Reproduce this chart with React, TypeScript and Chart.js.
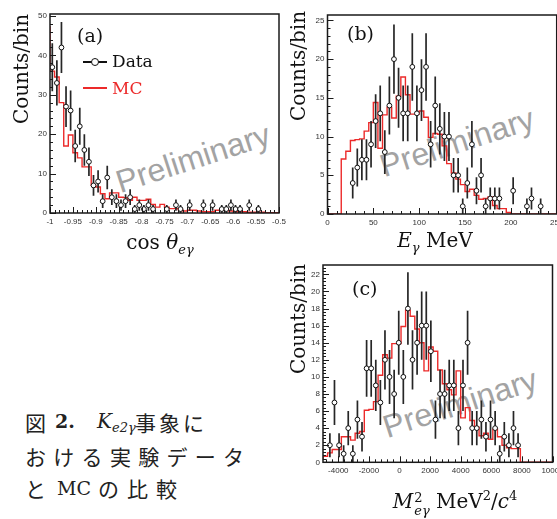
import React, { useEffect, useRef } from "react";
import { Chart, registerables } from "chart.js";
Chart.register(...registerables);

const TICK_FONT = "'Liberation Sans', Arial, sans-serif";
const SERIF = "'DejaVu Serif', 'Liberation Serif', serif";
const JP = "'Noto Sans CJK JP', 'Noto Sans', sans-serif";
const MC_RED = "#ec2a2a";

// ---------- Panel (a): cos theta_eγ, 50 bins of 0.01 from -1 ----------
const aBinStart = -1;
const aBinWidth = 0.01;
const aCounts: (number | null)[] = [
  37, 33, 42, 27, 26, 17, 22, 16, 13, 7,
  8, 3, 9, 4, 3, 2, 3, 4, 1, 2,
  1, 2, 1, null, null, 1, null, 2, 1, null,
  2, null, null, 2, null, 2, null, 1, 1, 2,
  1, 1, null, 2, null, 1, null, null, null, null,
];
const aMC: number[] = [
  47.4, 36.0, 34.5, 28.0, 17.0, 19.8, 15.3, 14.0, 11.7, 11.7,
  7.0, 6.6, 4.9, 3.6, 5.1, 5.1, 4.0, 3.9, 3.2, 4.0,
  3.2, 3.2, 3.5, 2.2, 1.5, 2.2, 1.5, 1.1, 1.1, 0.8,
  0.5, 0.7, 0.7, 0.5, 0.3, 0.3, 0.3, 0.7, 0.7, 0.85,
  0.5, 0.3, 0.3, 0.3, 0.2, 0.2, 0.2, 0.2, 0.1, 0.1,
];
const aXTicks = ["-1", "-0.95", "-0.9", "-0.85", "-0.8", "-0.75", "-0.7", "-0.65", "-0.6", "-0.55", "-0.5"];
const aYTicks = ["0", "10", "20", "30", "40", "50"];

// ---------- Panel (b): E_γ MeV, 50 bins of 5 MeV from 0 ----------
const bBinStart = 0;
const bBinWidth = 5;
const bCounts: (number | null)[] = [
  null, null, null, null, null, 4, 6, 7, 7, 9,
  12, 13, 8, 14, 20, 15, 13, 13, 19, 13,
  16, 19, 9, 14, 11, 10, 10, 5, 5, 1,
  4, 9, 3, 5, 1, 2, 2, 2, null, null,
  3, null, null, 1, 2, null, 1, null, null, null,
];
const bMC: number[] = [
  0, 0, 0, 0, 7.1, 8.1, 9.5, 9.6, 9.7, 10.7,
  11.8, 14.4, 8.5, 12.8, 13.8, 12.4, 15.2, 17.7, 15.4, 12.9,
  12.9, 13.3, 12.5, 9.9, 10.4, 10.3, 8.8, 6.5, 5.3, 4.5,
  3.8, 2.9, 3.2, 2.4, 1.9, 2.0, 2.2, 1.1, 0.7, 0.7,
  0.2, 0, 0, 0, 0, 0, 0, 0, 0, 0,
];
const bXTicks = ["0", "50", "100", "150", "200", "250"];
const bYTicks = ["0", "5", "10", "15", "20", "25"];

// ---------- Panel (c): M^2, 50 bins of 300 from -5000 ----------
const cBinStart = -5000;
const cBinWidth = 300;
const cCounts: (number | null)[] = [
  null, 2, 7, 2, 1, 4, 1, 5, 3, 11,
  11, 9, 7, 12, 10, 8, 14, 10, 18, 12,
  14, 16, 16, 13, 5, 8, 8, 9, 9, 4,
  9, 14, 4, 4, 5, 3, 5, 4, 1, 3,
  2, 4, 2, null, null, null, null, null, null, null,
];
const cMC: number[] = [
  0.4, 0.7, 1.1, 1.5, 1.5, 3.0, 3.0, 2.6, 3.4, 3.6,
  6.1, 6.2, 7.1, 10.2, 12.6, 12.2, 13.9, 13.9, 15.9, 17.8,
  17.1, 15.6, 14.0, 10.7, 13.5, 13.0, 10.8, 9.2, 8.5, 7.9,
  10.7, 5.2, 6.4, 4.9, 4.1, 3.1, 3.4, 2.7, 3.9, 3.0,
  2.0, 1.7, 1.6, 1.6, 0, 0, 0, 0, 0, 0,
];
const cXTicks = ["-4000", "-2000", "0", "2000", "4000", "6000", "8000", "10000"];
const cYTicks = ["0", "2", "4", "6", "8", "10", "12", "14", "16", "18", "20", "22"];

type PanelProps = {
  box: [number, number, number, number];
  area: [number, number, number, number];
  xRange: [number, number];
  yRange: [number, number];
  xTicks: string[];
  yTicks: string[];
  binStart: number;
  binWidth: number;
  counts: (number | null)[];
  mc: number[];
};

function makeFrame(majorX: number, majorY: number) {
  const minorX = majorX / 5;
  const minorY = majorY / 5;
  const isMajor = (v: number, m: number) => Math.abs(v / m - Math.round(v / m)) < 1e-6;
  return {
    id: "rootFrame",
    afterDraw(chart: any) {
      const { ctx, chartArea: a, scales } = chart;
      const xs = scales.x;
      const ys = scales.y;
      ctx.save();
      ctx.strokeStyle = "#1a1a1a";
      ctx.lineWidth = 1;
      for (let i = Math.ceil(xs.min / minorX - 1e-6); i * minorX <= xs.max + 1e-6; i++) {
        const v = i * minorX;
        const p = Math.round(xs.getPixelForValue(v)) + 0.5;
        const len = isMajor(v, majorX) ? 6 : 3;
        ctx.beginPath();
        ctx.moveTo(p, a.bottom);
        ctx.lineTo(p, a.bottom - len);
        ctx.stroke();
      }
      for (let i = Math.ceil(ys.min / minorY - 1e-6); i * minorY <= ys.max + 1e-6; i++) {
        const v = i * minorY;
        const p = Math.round(ys.getPixelForValue(v)) + 0.5;
        const len = isMajor(v, majorY) ? 6 : 3;
        ctx.beginPath();
        ctx.moveTo(a.left, p);
        ctx.lineTo(a.left + len, p);
        ctx.stroke();
      }
      ctx.lineWidth = 1.5;
      ctx.strokeRect(a.left, a.top, a.right - a.left, a.bottom - a.top);
      ctx.restore();
    },
  };
}

function Panel(props: PanelProps) {
  const ref = useRef<HTMLCanvasElement>(null);
  const { box, area, xRange, yRange, xTicks, yTicks, binStart, binWidth, counts, mc } = props;
  useEffect(() => {
    if (!ref.current) return;
    const [bl, bt, bw, bh] = box;
    const [L, T, R, B] = area;
    const mcPts = mc.map((v, i) => ({ x: binStart + i * binWidth, y: v }));
    mcPts.push({ x: binStart + mc.length * binWidth, y: mc[mc.length - 1] });
    const pts: any[] = [];
    const err: any[] = [];
    counts.forEach((v, i) => {
      if (v == null) return;
      const c = binStart + (i + 0.5) * binWidth;
      pts.push({ x: c, y: v });
      const e = Math.sqrt(v);
      err.push({ x: c, y: v - e }, { x: c, y: v + e }, { x: c, y: null });
    });
    const xVals = xTicks.map((t) => parseFloat(t));
    const yVals = yTicks.map((t) => parseFloat(t));
    const tickCommon = {
      autoSkip: false,
      maxRotation: 0,
      minRotation: 0,
      font: { size: 8, family: TICK_FONT },
      color: "#333",
    };
    const chart = new Chart(ref.current, {
      type: "line",
      data: {
        datasets: [
          {
            label: "Data",
            data: pts,
            showLine: false,
            pointRadius: 2.4,
            pointBackgroundColor: "#ffffff",
            pointBorderColor: "#111111",
            pointBorderWidth: 1,
            order: 1,
          },
          {
            label: "err",
            data: err,
            borderColor: "#262626",
            borderWidth: 1.7,
            pointRadius: 0,
            spanGaps: false,
            order: 2,
          },
          {
            label: "MC",
            data: mcPts,
            stepped: "after",
            borderColor: MC_RED,
            borderWidth: 1.4,
            pointRadius: 0,
            fill: false,
            order: 3,
          },
        ],
      } as any,
      options: {
        responsive: false,
        animation: false,
        devicePixelRatio: 1,
        events: [],
        layout: { padding: { left: 0, top: T - bt, right: bl + bw - R, bottom: 0 } },
        plugins: { legend: { display: false }, tooltip: { enabled: false } },
        scales: {
          x: {
            type: "linear",
            min: xRange[0],
            max: xRange[1],
            offset: false,
            grid: { display: false, drawTicks: false },
            border: { display: false },
            ticks: { ...tickCommon, padding: 4, callback: (_v: any, i: number) => xTicks[i] },
            afterBuildTicks: (s: any) => {
              s.ticks = xVals.map((v) => ({ value: v }));
            },
            afterFit: (s: any) => {
              s.height = bt + bh - B;
            },
          },
          y: {
            type: "linear",
            min: yRange[0],
            max: yRange[1],
            grid: { display: false, drawTicks: false },
            border: { display: false },
            ticks: { ...tickCommon, padding: 3, callback: (_v: any, i: number) => yTicks[i] },
            afterBuildTicks: (s: any) => {
              s.ticks = yVals.map((v) => ({ value: v }));
            },
            afterFit: (s: any) => {
              s.width = L - bl;
            },
          },
        },
      } as any,
      plugins: [makeFrame(xVals[1] - xVals[0], yVals[1] - yVals[0])],
    });
    return () => chart.destroy();
  }, []);
  return (
    <canvas
      ref={ref}
      width={box[2]}
      height={box[3]}
      style={{ position: "absolute", left: box[0], top: box[1], width: box[2], height: box[3] }}
    />
  );
}

const abs = (s: React.CSSProperties): React.CSSProperties => ({ position: "absolute", whiteSpace: "nowrap", ...s });

function YTitle({ cx, cy }: { cx: number; cy: number }) {
  return (
    <div
      style={abs({
        left: cx,
        top: cy,
        transform: "translate(-50%, -50%) rotate(-90deg)",
        fontFamily: SERIF,
        fontSize: 20,
        lineHeight: "20px",
        color: "#111",
      })}
    >
      Counts/bin
    </div>
  );
}

function Watermark({ cx, cy }: { cx: number; cy: number }) {
  return (
    <div
      style={abs({
        left: cx,
        top: cy,
        transform: "translate(-50%, -50%) rotate(-18deg)",
        fontFamily: TICK_FONT,
        fontSize: 32,
        lineHeight: "32px",
        color: "#a3a3a3",
      })}
    >
      Preliminary
    </div>
  );
}

export default function App() {
  const center = (cx: number, cy: number): React.CSSProperties => ({
    left: cx,
    top: cy,
    transform: "translate(-50%, -50%)",
  });
  return (
    <div
      style={{
        position: "absolute",
        left: 0,
        top: 0,
        width: 557,
        height: 519,
        overflow: "hidden",
        background: "#fff",
      }}
    >
      <Watermark cx={193} cy={158} />
      <Watermark cx={457} cy={142} />
      <Watermark cx={460} cy={403} />

      <Panel
        box={[0, 0, 300, 232]}
        area={[50, 14, 279, 213]}
        xRange={[-1, -0.5]}
        yRange={[0, 50.5]}
        xTicks={aXTicks}
        yTicks={aYTicks}
        binStart={aBinStart}
        binWidth={aBinWidth}
        counts={aCounts}
        mc={aMC}
      />
      <Panel
        box={[300, 0, 290, 232]}
        area={[327.5, 15, 556.7, 214]}
        xRange={[0, 250]}
        yRange={[0, 25.7]}
        xTicks={bXTicks}
        yTicks={bYTicks}
        binStart={bBinStart}
        binWidth={bBinWidth}
        counts={bCounts}
        mc={bMC}
      />
      <Panel
        box={[290, 250, 300, 235]}
        area={[323, 265, 552.5, 462.3]}
        xRange={[-5000, 10000]}
        yRange={[0, 23.1]}
        xTicks={cXTicks}
        yTicks={cYTicks}
        binStart={cBinStart}
        binWidth={cBinWidth}
        counts={cCounts}
        mc={cMC}
      />

      <YTitle cx={21} cy={69} />
      <YTitle cx={298} cy={66} />
      <YTitle cx={298} cy={319} />

      {/* panel labels */}
      <div style={abs({ left: 77, top: 24, fontFamily: SERIF, fontSize: 19, lineHeight: "22px", color: "#111" })}>(a)</div>
      <div style={abs({ left: 347, top: 22, fontFamily: SERIF, fontSize: 19, lineHeight: "22px", color: "#111" })}>(b)</div>
      <div style={abs({ left: 352, top: 277, fontFamily: SERIF, fontSize: 19, lineHeight: "22px", color: "#111" })}>(c)</div>

      {/* legend of (a) */}
      <div style={abs({ left: 83, top: 61, width: 24, height: 2, background: "#111" })} />
      <div
        style={abs({
          left: 91,
          top: 58,
          width: 6,
          height: 6,
          borderRadius: "50%",
          border: "1.5px solid #111",
          background: "#fff",
        })}
      />
      <div style={abs({ left: 112, top: 50, fontFamily: SERIF, fontSize: 17, lineHeight: "22px", color: "#111" })}>Data</div>
      <div style={abs({ left: 83, top: 87, width: 24, height: 2, background: MC_RED })} />
      <div style={abs({ left: 112, top: 77, fontFamily: SERIF, fontSize: 17, lineHeight: "22px", color: MC_RED })}>MC</div>

      {/* x-axis titles */}
      <div style={abs({ ...center(160, 246), fontFamily: SERIF, fontSize: 20, lineHeight: "24px", color: "#111" })}>
        cos <i>θ</i>
        <sub style={{ fontSize: 13, fontStyle: "italic", verticalAlign: "-5px" }}>eγ</sub>
      </div>
      <div style={abs({ ...center(435, 244), fontFamily: SERIF, fontSize: 20, lineHeight: "24px", color: "#111" })}>
        <i>E</i>
        <sub style={{ fontSize: 13, fontStyle: "italic", verticalAlign: "-5px" }}>γ</sub> MeV
      </div>
      <div style={abs({ ...center(455, 499), fontFamily: SERIF, fontSize: 20, lineHeight: "30px", color: "#111" })}>
        <i>M</i>
        <span
          style={{
            display: "inline-block",
            verticalAlign: "-7px",
            fontSize: 13,
            lineHeight: "13px",
            marginLeft: 1,
            textAlign: "left",
          }}
        >
          2
          <br />
          <i>eγ</i>
        </span>{" "}
        MeV<sup style={{ fontSize: 13 }}>2</sup>/<i>c</i>
        <sup style={{ fontSize: 13 }}>4</sup>
      </div>

      {/* caption */}
      <div style={abs({ left: 25, top: 410, fontFamily: JP, fontSize: 21, lineHeight: "24px", color: "#222" })}>図</div>
      <div style={abs({ left: 55, top: 409, fontFamily: SERIF, fontWeight: "bold", fontSize: 19, lineHeight: "24px", color: "#222" })}>2.</div>
      <div style={abs({ left: 97, top: 409, fontFamily: SERIF, fontSize: 20, lineHeight: "24px", color: "#222" })}>
        <i>K</i>
        <sub style={{ fontSize: 13, fontStyle: "italic", verticalAlign: "-4px" }}>e2γ</sub>
      </div>
      <div style={abs({ left: 135, top: 410, fontFamily: JP, fontSize: 21, lineHeight: "24px", letterSpacing: 3, color: "#222" })}>事象に</div>
      <div style={abs({ left: 25, top: 444, fontFamily: JP, fontSize: 21, lineHeight: "24px", letterSpacing: 7.3, color: "#222" })}>おける実験データ</div>
      <div style={abs({ left: 25, top: 476, fontFamily: JP, fontSize: 21, lineHeight: "24px", color: "#222" })}>と</div>
      <div style={abs({ left: 57, top: 476, fontFamily: SERIF, fontSize: 19, lineHeight: "24px", color: "#222" })}>MC</div>
      <div style={abs({ left: 98, top: 476, fontFamily: JP, fontSize: 21, lineHeight: "24px", letterSpacing: 8, color: "#222" })}>の比較</div>
    </div>
  );
}
